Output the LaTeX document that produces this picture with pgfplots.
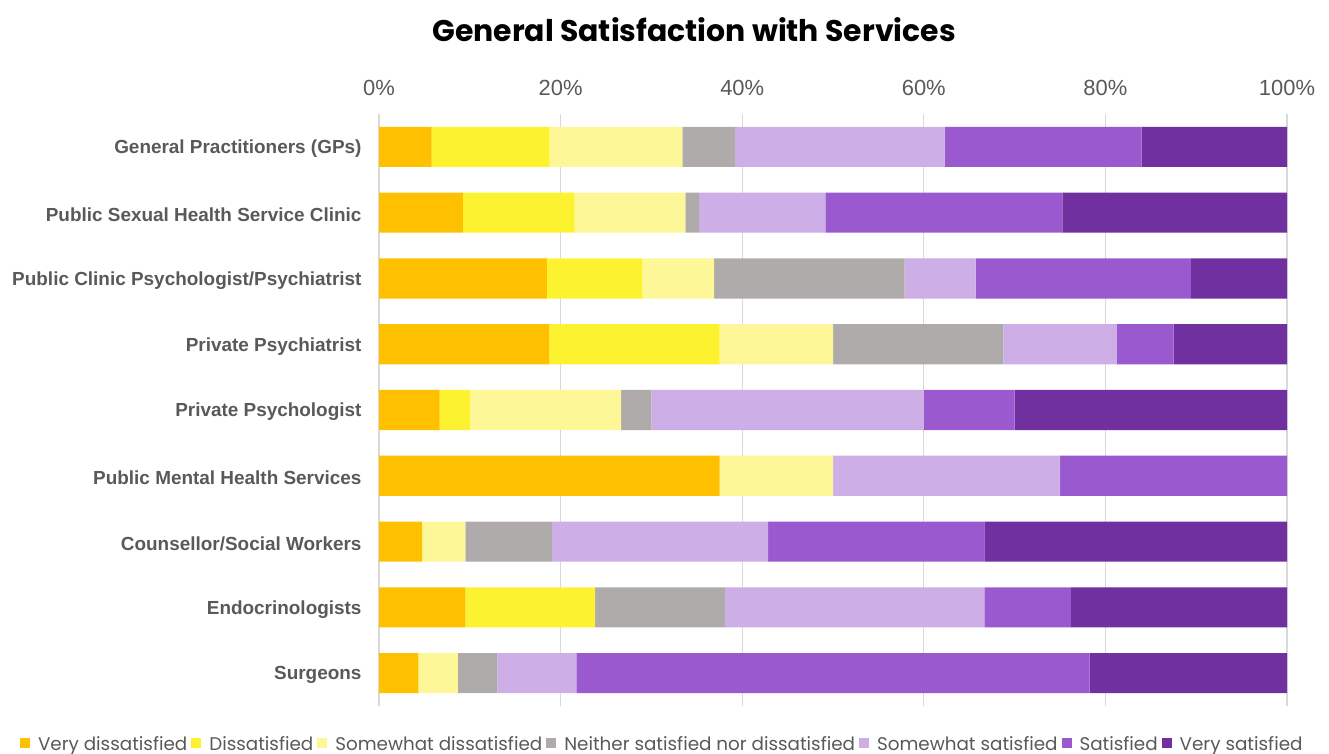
\documentclass[border=0pt]{standalone}
\usepackage{fontspec}
\setmainfont{Liberation Sans}
\newfontfamily\pop{Poppins}
\usepackage{pgfplots}
\pgfplotsset{compat=1.18}
\usepackage{pgfplotstable}
\definecolor{c1}{HTML}{FFC000}
\definecolor{c2}{HTML}{FDF230}
\definecolor{c3}{HTML}{FDF797}
\definecolor{c4}{HTML}{AFABAB}
\definecolor{c5}{HTML}{CEAEE7}
\definecolor{c6}{HTML}{9B59D0}
\definecolor{c7}{HTML}{7030A0}
\definecolor{labgray}{HTML}{595959}
\definecolor{gridgray}{HTML}{D9D9D9}
\pgfplotstableread{
cat vd d sd n ss s vs
0 5.8 13.0 14.6 5.8 23.1 21.7 16.0
1 9.25 12.3 12.2 1.5 13.9 26.1 24.75
2 18.5 10.5 7.9 21.0 7.8 23.7 10.6
3 18.75 18.75 12.5 18.75 12.5 6.25 12.5
4 6.67 3.33 16.67 3.33 30 10 30
5 37.5 0 12.5 0 25 25 0
6 4.76 0 4.76 9.52 23.81 23.81 33.34
7 9.52 14.29 0 14.29 28.57 9.52 23.81
8 4.35 0 4.35 4.35 8.7 56.52 21.73
}\data
\begin{document}
\begin{tikzpicture}
\path[use as bounding box] (0bp,0bp) rectangle (1329bp,754bp);
\node[font=\pop\bfseries\fontsize{30}{34}\selectfont] at (694bp,724bp) {General Satisfaction with Services};
\begin{axis}[
  at={(379bp,48bp)}, anchor=south west,
  scale only axis, width=908bp, height=592bp,
  xbar stacked, bar width=0.61,
  xmin=0, xmax=100, ymin=-0.5, ymax=8.5,
  enlargelimits=false,
  y dir=reverse,
  ytick={0,...,8},
  yticklabels={General Practitioners (GPs),Public Sexual Health Service Clinic,Public Clinic Psychologist/Psychiatrist,Private Psychiatrist,Private Psychologist,Public Mental Health Services,Counsellor/Social Workers,Endocrinologists,Surgeons},
  yticklabel style={font=\bfseries\fontsize{19}{22}\selectfont, text=labgray, xshift=-14bp, yshift=-2bp},
  xtick={0,20,...,100},
  xticklabel pos=upper,
  xticklabel={\pgfmathprintnumber{\tick}\%},
  xticklabel style={font=\fontsize{22}{25}\selectfont, text=labgray, yshift=15bp, /pgf/number format/assume math mode=true},
  xmajorgrids,
  grid style={draw=gridgray, line width=1.3bp},
  axis line style={draw=none},
  major tick length=0pt,
  legend style={at={(0.312,-0.064)}, anchor=center, legend columns=-1, draw=none, fill=none,
    font=\pop\fontsize{18.4}{21}\selectfont, text=labgray,
    /tikz/every even column/.append style={column sep=2bp},
    /tikz/every odd column/.append style={column sep=6bp}},
  legend image code/.code={\fill[#1] (0bp,-4bp) rectangle (10bp,6bp);},
]
\addplot[fill=c1, draw=none] table[x=vd, y=cat] {\data};
\addplot[fill=c2, draw=none] table[x=d, y=cat] {\data};
\addplot[fill=c3, draw=none] table[x=sd, y=cat] {\data};
\addplot[fill=c4, draw=none] table[x=n, y=cat] {\data};
\addplot[fill=c5, draw=none] table[x=ss, y=cat] {\data};
\addplot[fill=c6, draw=none] table[x=s, y=cat] {\data};
\addplot[fill=c7, draw=none] table[x=vs, y=cat] {\data};
\legend{Very dissatisfied,Dissatisfied,Somewhat dissatisfied,Neither satisfied nor dissatisfied,Somewhat satisfied,Satisfied,Very satisfied}
\end{axis}
\end{tikzpicture}
\end{document}
